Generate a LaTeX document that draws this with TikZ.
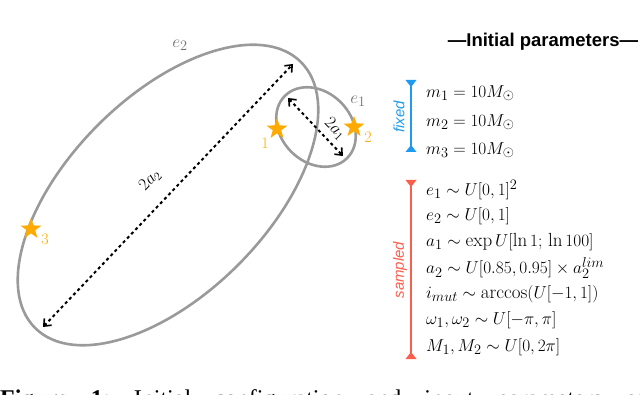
\documentclass[tikz,border=0pt]{standalone}
\usepackage{fontspec}
\newfontfamily\hsans{Liberation Sans}
\newfontfamily\capfont{Liberation Serif}
\usetikzlibrary{arrows.meta,shapes.geometric}
\definecolor{orbitc}{HTML}{9A9A9A}
\definecolor{starc}{HTML}{FFAA00}
\definecolor{fixc}{HTML}{1E9BF0}
\definecolor{sampc}{HTML}{FA5F4B}
\definecolor{lblc}{HTML}{707070}
\tikzset{
  orbitline/.style={draw=orbitc, line width=2.6pt},
  axisarrow/.style={line width=2pt, dash pattern=on 3pt off 3pt,
    {Straight Barb[length=6pt,width=10pt,line width=1.6pt]}-{Straight Barb[length=6pt,width=10pt,line width=1.6pt]}},
  starmark/.style={star, star points=5, star point ratio=2.5, fill=starc, inner sep=0pt, minimum size=22pt},
  starlbl/.style={text=starc, font=\fontsize{16}{16}\selectfont},
  orblbl/.style={text=lblc, font=\fontsize{19}{19}\selectfont},
  eqline/.style={anchor=west, inner sep=0pt, font=\fontsize{19}{23}\selectfont},
  sidelbl/.style={font=\fontsize{15}{15}\selectfont\hsans\itshape, rotate=90, inner sep=0pt},
  axislbl/.style={inner sep=0pt, font=\fontsize{17}{17}\selectfont},
}
\begin{document}
\begin{tikzpicture}[x=1pt,y=-1pt]
\useasboundingbox (0,0) rectangle (640,395);
% orbits
\draw[orbitline, rotate around={45:(168,195)}] (168,195) ellipse [x radius=188, y radius=99];
\draw[orbitline, rotate around={-45:(316,127)}] (316,127) ellipse [x radius=44, y radius=35];
% axes
\coordinate (A2a) at (293,64);
\coordinate (A2b) at (43,327);
\coordinate (A1a) at (288,98);
\coordinate (A1b) at (343,156);
\draw[axisarrow] (A2b) -- (A2a);
\draw[axisarrow] (A1a) -- (A1b);
\node[axislbl, rotate=46] (l2a2) at (150,180) {$2a_2$};
\node[axislbl, rotate=-45] (l2a1) at (335,129) {$2a_1$};
\node[orblbl] (le2) at (180,45) {$e_2$};
\node[orblbl] (le1) at (358,101) {$e_1$};
% stars
\node[starmark] (s1) at (277,129) {};
\node[starmark] (s2) at (354,127) {};
\node[starmark] (s3) at (31,229) {};
\node[starlbl] (n1) at (265,143) {1};
\node[starlbl] (n2) at (368,137) {2};
\node[starlbl] (n3) at (45,239) {3};
% title
\node[font=\fontsize{18.5}{18.5}\selectfont\hsans\bfseries] (title) at (543,42) {—Initial parameters—};
% fixed bar
\draw[fixc, line width=2.4pt] (411,82) -- (411,150);
\fill[fixc] (405.5,80) -- (416.5,80) -- (411,87) -- cycle;
\fill[fixc] (405.5,152) -- (416.5,152) -- (411,145) -- cycle;
\node[sidelbl, text=fixc] (fixed) at (399,117) {fixed};
\node[eqline] (m1) at (426,93) {$m_1 = 10M_\odot$};
\node[eqline] (m2) at (426,122) {$m_2 = 10M_\odot$};
\node[eqline] (m3) at (426,150) {$m_3 = 10M_\odot$};
% sampled bar
\draw[sampc, line width=2.4pt] (411,182) -- (411,357);
\fill[sampc] (405.5,180) -- (416.5,180) -- (411,187) -- cycle;
\fill[sampc] (405.5,359) -- (416.5,359) -- (411,352) -- cycle;
\node[sidelbl, text=sampc] (sampled) at (400,270) {sampled};
\node[eqline] (q1) at (426,190) {$e_1 \sim U[0,1]^2$};
\node[eqline] (q2) at (426,216) {$e_2 \sim U[0,1]$};
\node[eqline] (q3) at (426,242) {$a_1 \sim \exp U[\ln 1;\, \ln 100]$};
\node[eqline] (q4) at (426,268) {$a_2 \sim U[0.85, 0.95] \times a_2^{lim}$};
\node[eqline] (q5) at (426,294) {$i_{mut} \sim \arccos(U[-1,1])$};
\node[eqline] (q6) at (426,320) {$\omega_1, \omega_2 \sim U[-\pi,\pi]$};
\node[eqline] (q7) at (426,347) {$M_1, M_2 \sim U[0,2\pi]$};
% caption (cut off by the page edge)
\begin{scope}
\clip (0,0) rectangle (640,395);
\node[anchor=base west, inner sep=0pt, font=\fontsize{24}{24}\selectfont\capfont] (cap) at (0,406)
  {\makebox[645pt][s]{\textbf{Figure 1:}\ Initial configuration and input parameters of}};
\end{scope}
\end{tikzpicture}
\end{document}
